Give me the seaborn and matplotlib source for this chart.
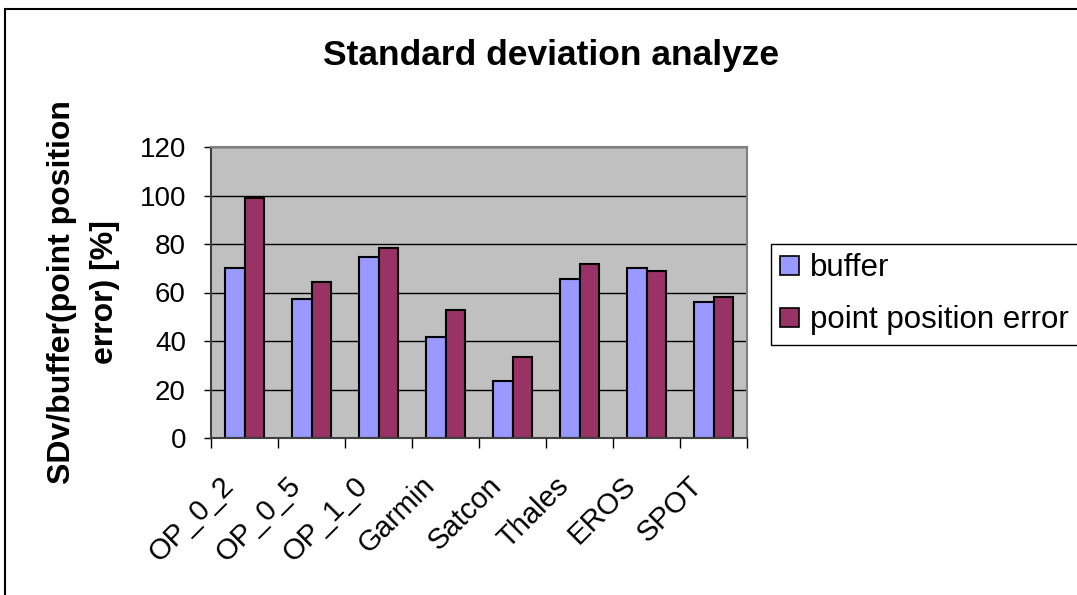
import numpy as np
import pandas as pd
import seaborn as sns
import matplotlib.pyplot as plt
import matplotlib.transforms as mtransforms
from matplotlib.patches import Rectangle
from matplotlib.ticker import FixedLocator

# Chart data
categories = ['OP_0_2', 'OP_0_5', 'OP_1_0', 'Garmin', 'Satcon', 'Thales', 'EROS', 'SPOT']
buffer_vals = [70.0, 57.2, 74.5, 41.7, 23.6, 65.4, 70.1, 56.2]
ppe_vals = [98.9, 64.4, 78.3, 52.7, 33.5, 71.7, 69.0, 58.3]
series_names = ['buffer', 'point position error']
y_ticks = [0, 20, 40, 60, 80, 100, 120]

# Long form table for seaborn
data = pd.DataFrame({
    'Category': categories * 2,
    'Value': buffer_vals + ppe_vals,
    'Series': [series_names[0]] * len(categories) + [series_names[1]] * len(categories),
})

plt.rcParams['font.family'] = ['Liberation Sans', 'DejaVu Sans']

fig = plt.figure(figsize=(10.77, 5.95), dpi=100)
ax = fig.add_axes([211 / 1077, 1 - 438 / 595, 536 / 1077, 291 / 595])

sns.barplot(data=data, x='Category', y='Value', hue='Series', order=categories,
            hue_order=series_names, palette=['#9999FF', '#993366'],
            width=0.57, edgecolor='black', linewidth=1.5, saturation=1,
            ax=ax, legend=False)

ax.set_facecolor('#C0C0C0')
ax.set_ylim(0, 120)
ax.set_xlim(-0.5, len(categories) - 0.5)
ax.set_yticks(y_ticks)
ax.yaxis.grid(True, color='black', linewidth=1)
ax.set_axisbelow(True)

# Ticks between categories like the original
ax.xaxis.set_minor_locator(FixedLocator(np.arange(-0.5, len(categories), 1.0)))
ax.tick_params(axis='x', which='major', length=0, pad=24)
ax.tick_params(axis='x', which='minor', length=7, width=1, direction='out', color='black')
ax.tick_params(axis='y', length=5, width=1, direction='out', labelsize=20, pad=13)
ax.set_xticks(range(len(categories)))
ax.set_xticklabels(categories, rotation=45, ha='right', rotation_mode='anchor', fontsize=21)

# nudge the rotated labels to the left
shift = mtransforms.ScaledTranslation(-0.25, 0, fig.dpi_scale_trans)
for lbl in ax.get_xticklabels():
    lbl.set_transform(lbl.get_transform() + shift)

for side in ['top', 'right']:
    ax.spines[side].set_color('#808080')
    ax.spines[side].set_linewidth(1.5)
for side in ['left', 'bottom']:
    ax.spines[side].set_color('#404040')
    ax.spines[side].set_linewidth(1.5)

ax.set_xlabel('')
ax.set_ylabel('SDv/buffer(point position\nerror) [%]', fontsize=23, fontweight='bold',
              labelpad=14, linespacing=1.55)

fig.text(551 / 1077, 1 - 55 / 595, 'Standard deviation analyze', fontsize=25.5,
         fontweight='bold', ha='center', va='center')

# Legend
handles = [Rectangle((0, 0), 1, 1, facecolor=c, edgecolor='black', linewidth=1.2)
           for c in ['#9999FF', '#993366']]
leg = fig.legend(handles, series_names, loc='upper left',
                 bbox_to_anchor=(771 / 1077, 1 - 244 / 595), fontsize=22.5,
                 frameon=True, fancybox=False, edgecolor='black', framealpha=1,
                 handlelength=0.58, handleheight=0.58, handletextpad=0.38,
                 borderpad=0.3, labelspacing=0.7, borderaxespad=0)
leg.get_frame().set_linewidth(1)

# Outer chart border
fig.patches.append(Rectangle((4.5 / 1077, -0.1), 2, 1.1 - 9 / 595, transform=fig.transFigure,
                             fill=False, edgecolor='black', linewidth=1.5, clip_on=False))

fig.savefig('out.png', dpi=100, facecolor='white')
